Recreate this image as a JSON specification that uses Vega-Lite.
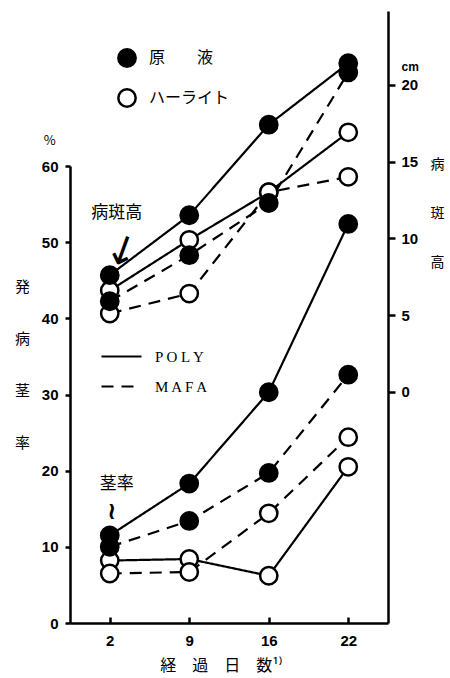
{
  "$schema": "https://vega.github.io/schema/vega-lite/v6.json",
  "width": 318,
  "height": 612,
  "autosize": {"type": "none"},
  "padding": {"left": 70, "top": 11, "right": 62, "bottom": 55},
  "background": "white",
  "config": {
    "view": {"stroke": null},
    "font": "Noto Sans CJK JP",
    "axis": {
      "grid": false,
      "domainColor": "black",
      "domainWidth": 2.5,
      "tickColor": "black",
      "tickWidth": 2.5,
      "labelColor": "black",
      "labelFont": "Liberation Sans",
      "labelFontWeight": "bold",
      "labelFontSize": 15,
      "titleColor": "black",
      "titleFont": "Noto Sans CJK JP",
      "titleFontWeight": "normal"
    }
  },
  "datasets": {
    "rate": [
      {"series": "POLY-ハーライト", "method": "POLY", "material": "ハーライト", "day": 2, "value": 8.2},
      {"series": "POLY-ハーライト", "method": "POLY", "material": "ハーライト", "day": 9, "value": 8.4},
      {"series": "POLY-ハーライト", "method": "POLY", "material": "ハーライト", "day": 16, "value": 6.2},
      {"series": "POLY-ハーライト", "method": "POLY", "material": "ハーライト", "day": 22, "value": 20.5},
      {"series": "MAFA-ハーライト", "method": "MAFA", "material": "ハーライト", "day": 2, "value": 6.5},
      {"series": "MAFA-ハーライト", "method": "MAFA", "material": "ハーライト", "day": 9, "value": 6.7},
      {"series": "MAFA-ハーライト", "method": "MAFA", "material": "ハーライト", "day": 16, "value": 14.4},
      {"series": "MAFA-ハーライト", "method": "MAFA", "material": "ハーライト", "day": 22, "value": 24.4},
      {"series": "POLY-原液", "method": "POLY", "material": "原液", "day": 2, "value": 11.5},
      {"series": "POLY-原液", "method": "POLY", "material": "原液", "day": 9, "value": 18.3},
      {"series": "POLY-原液", "method": "POLY", "material": "原液", "day": 16, "value": 30.3},
      {"series": "POLY-原液", "method": "POLY", "material": "原液", "day": 22, "value": 52.4},
      {"series": "MAFA-原液", "method": "MAFA", "material": "原液", "day": 2, "value": 10.0},
      {"series": "MAFA-原液", "method": "MAFA", "material": "原液", "day": 9, "value": 13.4},
      {"series": "MAFA-原液", "method": "MAFA", "material": "原液", "day": 16, "value": 19.7},
      {"series": "MAFA-原液", "method": "MAFA", "material": "原液", "day": 22, "value": 32.6}
    ],
    "height": [
      {"series": "POLY-ハーライト", "method": "POLY", "material": "ハーライト", "day": 2, "cm": 6.6},
      {"series": "POLY-ハーライト", "method": "POLY", "material": "ハーライト", "day": 9, "cm": 9.9},
      {"series": "POLY-ハーライト", "method": "POLY", "material": "ハーライト", "day": 16, "cm": 13.0},
      {"series": "POLY-ハーライト", "method": "POLY", "material": "ハーライト", "day": 22, "cm": 16.9},
      {"series": "MAFA-ハーライト", "method": "MAFA", "material": "ハーライト", "day": 2, "cm": 5.1},
      {"series": "MAFA-ハーライト", "method": "MAFA", "material": "ハーライト", "day": 9, "cm": 6.4},
      {"series": "MAFA-ハーライト", "method": "MAFA", "material": "ハーライト", "day": 16, "cm": 13.0},
      {"series": "MAFA-ハーライト", "method": "MAFA", "material": "ハーライト", "day": 22, "cm": 14.0},
      {"series": "POLY-原液", "method": "POLY", "material": "原液", "day": 2, "cm": 7.6},
      {"series": "POLY-原液", "method": "POLY", "material": "原液", "day": 9, "cm": 11.5},
      {"series": "POLY-原液", "method": "POLY", "material": "原液", "day": 16, "cm": 17.4},
      {"series": "POLY-原液", "method": "POLY", "material": "原液", "day": 22, "cm": 21.4},
      {"series": "MAFA-原液", "method": "MAFA", "material": "原液", "day": 2, "cm": 5.9},
      {"series": "MAFA-原液", "method": "MAFA", "material": "原液", "day": 9, "cm": 8.9},
      {"series": "MAFA-原液", "method": "MAFA", "material": "原液", "day": 16, "cm": 12.3},
      {"series": "MAFA-原液", "method": "MAFA", "material": "原液", "day": 22, "cm": 20.8}
    ]
  },
  "encoding": {
    "x": {
      "field": "day",
      "type": "ordinal",
      "scale": {"type": "point", "padding": 0.5, "domain": [2, 9, 16, 22]},
      "axis": {
        "orient": "bottom",
        "labelAngle": 0,
        "tickSize": -6,
        "labelPadding": 16,
        "title": "経　過　日　数¹⁾",
        "titleFontSize": 16,
        "titleX": 151,
        "titleY": 42,
        "titleBaseline": "middle",
        "titleAlign": "center"
      }
    }
  },
  "layer": [
    {
      "data": {"name": "rate"},
      "encoding": {
        "y": {
          "field": "value",
          "type": "quantitative",
          "scale": {"domain": [0, 60], "range": [612, 155], "nice": false, "zero": false},
          "axis": {
            "orient": "left",
            "values": [0, 10, 20, 30, 40, 50, 60],
            "tickSize": 5,
            "labelPadding": 7,
            "title": ["発", "病", "茎", "率"],
            "titleFontSize": 15,
            "titleAngle": 0,
            "titleAlign": "center",
            "titleBaseline": "top",
            "titleLineHeight": 52,
            "titleX": -48,
            "titleY": 268
          }
        }
      },
      "layer": [
        {
          "mark": {"type": "line", "stroke": "black", "strokeWidth": 2.2},
          "encoding": {
            "detail": {"field": "series"},
            "strokeDash": {
              "field": "method",
              "type": "nominal",
              "scale": {"domain": ["POLY", "MAFA"], "range": [[1, 0], [12, 8]]},
              "legend": {
                "orient": "none",
                "legendX": 30,
                "legendY": 324,
                "title": null,
                "padding": 0,
                "symbolType": "stroke",
                "symbolSize": 1600,
                "symbolStrokeWidth": 2.2,
                "symbolStrokeColor": "black",
                "labelFont": "Liberation Serif",
                "labelFontSize": 15,
                "labelColor": "black",
                "labelOffset": 12,
                "rowPadding": -17,
                "labelExpr": "datum.label == 'POLY' ? 'P O L Y' : 'M A F A'"
              }
            }
          }
        },
        {
          "mark": {"type": "point", "shape": "circle", "filled": true, "stroke": "black", "strokeWidth": 2.5, "size": 300, "opacity": 1},
          "encoding": {
            "fill": {
              "field": "material",
              "type": "nominal",
              "scale": {"domain": ["原液", "ハーライト"], "range": ["black", "white"]},
              "legend": {
                "orient": "none",
                "legendX": 47,
                "legendY": 37,
                "title": null,
                "padding": 0,
                "symbolType": "circle",
                "symbolSize": 300,
                "symbolStrokeColor": "black",
                "symbolStrokeWidth": 2.5,
                "labelFont": "Noto Sans CJK JP",
                "labelFontSize": 16,
                "labelColor": "black",
                "labelOffset": 12,
                "rowPadding": 12,
                "labelExpr": "datum.label == '原液' ? '原　　液' : datum.label"
              }
            }
          }
        },
        {
          "data": {"values": [{"day": 2, "value": 53.8, "note": "病斑高"}, {"day": 2, "value": 18.3, "note": "茎率"}]},
          "mark": {"type": "text", "font": "Noto Sans CJK JP", "fontSize": 17, "color": "black", "dx": 7},
          "encoding": {"text": {"field": "note"}}
        },
        {
          "data": {"values": [{"day": 2, "value": 63.3, "note": "%"}]},
          "mark": {"type": "text", "font": "Noto Sans CJK JP", "fontSize": 13, "color": "black", "dx": -60},
          "encoding": {"text": {"field": "note"}}
        },
        {
          "data": {"values": [{"day": 2, "value": 49.2, "note": "↓"}]},
          "mark": {"type": "text", "font": "DejaVu Sans", "fontSize": 40, "color": "black", "dx": 13, "angle": 20},
          "encoding": {"text": {"field": "note"}}
        },
        {
          "data": {"values": [{"day": 2, "value": 16.2, "note": "≀"}]},
          "mark": {"type": "text", "font": "DejaVu Sans", "fontSize": 24, "fontWeight": "bold", "color": "black", "dx": 2, "baseline": "top"},
          "encoding": {"text": {"field": "note"}}
        }
      ]
    },
    {
      "data": {"name": "height"},
      "encoding": {
        "y": {
          "field": "cm",
          "type": "quantitative",
          "scale": {"domain": [-15.05, 24.8], "nice": false, "zero": false},
          "axis": {
            "orient": "right",
            "values": [0, 5, 10, 15, 20, 21.2],
            "labelExpr": "datum.value > 20.5 ? 'cm' : datum.label",
            "labelFontSize": {"condition": {"test": "datum.value > 20.5", "value": 12}, "value": 15},
            "tickOpacity": {"condition": {"test": "datum.value > 20.5", "value": 0}, "value": 1},
            "tickSize": 7,
            "labelPadding": 6,
            "title": ["病", "斑", "高"],
            "titleFontSize": 14,
            "titleAngle": 0,
            "titleAlign": "center",
            "titleBaseline": "top",
            "titleLineHeight": 49,
            "titleX": 49,
            "titleY": 146
          }
        }
      },
      "layer": [
        {
          "mark": {"type": "line", "stroke": "black", "strokeWidth": 2.2},
          "encoding": {
            "detail": {"field": "series"},
            "strokeDash": {"field": "method", "type": "nominal"}
          }
        },
        {
          "mark": {"type": "point", "shape": "circle", "filled": true, "stroke": "black", "strokeWidth": 2.5, "size": 300, "opacity": 1},
          "encoding": {
            "fill": {"field": "material", "type": "nominal"}
          }
        }
      ]
    }
  ],
  "resolve": {"scale": {"y": "independent"}}
}
